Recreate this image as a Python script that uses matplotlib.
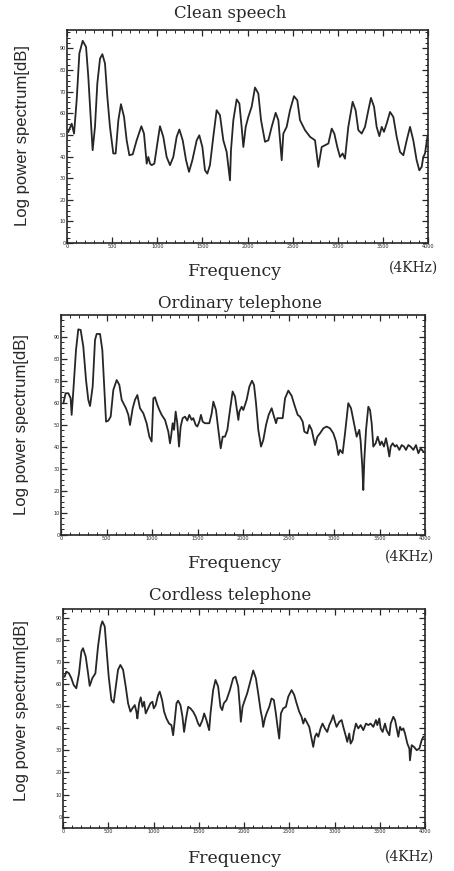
import matplotlib
matplotlib.use("Agg")
import matplotlib.pyplot as plt
from matplotlib.ticker import FixedLocator, MultipleLocator

# ---------------- data ----------------
clean_hz = [15, 52, 78, 107, 137, 174, 211, 236, 262, 284,
            310, 336, 366, 392, 421, 447, 476, 513, 539, 569,
            598, 632, 661, 691, 728, 772, 824, 853, 883, 901,
            920, 938, 968, 1001, 1030, 1067, 1104, 1141, 1178, 1215,
            1245, 1282, 1319, 1352, 1389, 1437, 1466, 1500, 1529, 1555,
            1584, 1621, 1658, 1695, 1732, 1769, 1806, 1817, 1843, 1880,
            1910, 1935, 1954, 1980, 2009, 2046, 2083, 2120, 2150, 2194,
            2231, 2268, 2312, 2342, 2379, 2397, 2434, 2471, 2515, 2552,
            2582, 2637, 2693, 2748, 2785, 2822, 2859, 2896, 2933, 2962,
            2995, 3025, 3054, 3080, 3117, 3165, 3198, 3228, 3265, 3302,
            3339, 3368, 3402, 3431, 3461, 3487, 3512, 3542, 3579, 3616,
            3653, 3690, 3727, 3764, 3801, 3837, 3874, 3904, 3930, 3948,
            3967, 3993]
clean_db = [51.4, 55.2, 50.6, 66.0, 87.7, 93.5, 90.7, 76.9, 58.3, 42.9,
            53.7, 73.8, 85.3, 87.3, 83.0, 67.6, 53.7, 41.4, 41.4, 56.8,
            64.2, 58.3, 47.5, 40.6, 41.0, 47.5, 54.0, 50.6, 36.7, 39.8,
            36.7, 36.0, 36.7, 46.0, 54.0, 49.1, 39.8, 36.0, 39.8, 49.1,
            52.5, 47.5, 38.3, 32.9, 38.3, 47.5, 49.8, 44.4, 33.6, 32.1,
            36.0, 49.1, 61.4, 59.1, 47.5, 42.1, 29.0, 42.9, 56.8, 66.4,
            64.5, 53.7, 44.4, 53.7, 58.3, 63.0, 71.9, 69.1, 56.8, 46.8,
            47.5, 53.7, 60.2, 56.8, 38.3, 50.6, 53.7, 61.4, 67.9, 66.0,
            56.8, 52.2, 49.1, 47.5, 35.2, 44.4, 45.2, 46.0, 52.9, 50.6,
            44.4, 39.8, 41.4, 39.0, 53.7, 65.3, 61.4, 52.2, 50.6, 53.7,
            61.4, 67.1, 63.0, 53.7, 49.4, 53.7, 51.4, 55.2, 60.6, 58.3,
            49.1, 42.1, 40.6, 47.5, 53.7, 47.5, 38.3, 33.6, 35.2, 39.8,
            41.4, 49.1]

ordinary_hz = [26, 51, 81, 106, 117, 136, 165, 190, 216, 245,
               275, 300, 319, 348, 374, 392, 429, 454, 473, 495,
               520, 546, 575, 612, 641, 667, 714, 740, 758, 788,
               813, 839, 868, 905, 941, 971, 996, 1015, 1033, 1059,
               1081, 1106, 1143, 1179, 1198, 1209, 1227, 1242, 1260, 1278,
               1297, 1315, 1337, 1363, 1388, 1410, 1436, 1454, 1480, 1498,
               1520, 1538, 1557, 1582, 1630, 1656, 1674, 1703, 1729, 1755,
               1777, 1802, 1828, 1857, 1886, 1912, 1930, 1949, 1960, 1985,
               2004, 2040, 2070, 2099, 2121, 2143, 2168, 2198, 2223, 2253,
               2282, 2315, 2341, 2363, 2377, 2407, 2436, 2462, 2498, 2535,
               2571, 2601, 2626, 2656, 2674, 2707, 2729, 2755, 2791, 2817,
               2846, 2883, 2919, 2956, 2993, 3022, 3048, 3066, 3095, 3121,
               3157, 3187, 3220, 3249, 3278, 3293, 3311, 3322, 3333, 3352,
               3377, 3396, 3414, 3432, 3458, 3480, 3506, 3524, 3549, 3571,
               3590, 3608, 3623, 3645, 3670, 3689, 3718, 3744, 3769, 3791,
               3817, 3842, 3872, 3901, 3927, 3952, 3982]
ordinary_db = [59.8, 64.3, 64.3, 62.0, 54.5, 65.8, 84.0, 93.3, 93.0, 85.5,
               70.3, 61.3, 58.5, 67.3, 88.5, 91.2, 91.2, 84.0, 68.8, 51.4,
               51.9, 53.7, 65.8, 70.3, 68.1, 61.3, 57.5, 54.5, 49.9, 57.5,
               61.3, 63.5, 57.5, 55.2, 50.7, 44.6, 42.4, 62.0, 62.5, 59.0,
               56.7, 54.5, 52.2, 46.9, 41.6, 44.6, 50.7, 47.7, 56.0, 50.7,
               40.1, 49.2, 53.0, 53.7, 51.9, 54.5, 52.2, 53.0, 49.9, 49.2,
               51.4, 54.5, 51.4, 50.7, 50.7, 55.2, 60.5, 56.7, 47.7, 39.3,
               44.6, 44.6, 47.7, 56.7, 65.1, 62.8, 57.5, 52.2, 56.0, 58.2,
               56.7, 61.3, 67.3, 70.0, 68.1, 59.8, 47.7, 40.1, 43.1, 49.9,
               54.5, 57.5, 53.7, 50.7, 53.0, 53.0, 53.0, 62.0, 65.5, 63.1,
               58.2, 54.5, 53.7, 51.4, 46.9, 46.1, 49.9, 47.7, 40.8, 44.6,
               46.1, 48.4, 49.2, 48.4, 46.1, 42.4, 36.3, 38.6, 37.1, 46.1,
               59.8, 57.5, 50.7, 44.6, 47.7, 42.4, 31.0, 20.4, 34.0, 47.7,
               58.2, 56.7, 50.7, 40.1, 41.6, 44.6, 40.8, 42.4, 40.1, 43.9,
               40.1, 35.6, 40.1, 41.6, 40.1, 40.8, 38.6, 40.8, 40.1, 38.6,
               40.8, 40.1, 38.6, 40.8, 37.1, 39.3, 37.8]

cordless_hz = [18, 37, 66, 92, 118, 147, 177, 203, 221, 251,
               277, 295, 324, 358, 387, 417, 435, 461, 479, 505,
               535, 560, 583, 608, 634, 664, 693, 719, 745, 767,
               793, 811, 822, 841, 859, 878, 896, 914, 940, 966,
               988, 1003, 1025, 1051, 1069, 1095, 1117, 1143, 1172, 1198,
               1217, 1231, 1254, 1272, 1298, 1320, 1338, 1357, 1383, 1408,
               1438, 1467, 1493, 1512, 1541, 1560, 1585, 1615, 1630, 1659,
               1685, 1714, 1740, 1759, 1777, 1807, 1844, 1880, 1906, 1936,
               1954, 1965, 1984, 2009, 2035, 2065, 2102, 2131, 2157, 2183,
               2201, 2212, 2231, 2249, 2279, 2304, 2330, 2352, 2371, 2389,
               2408, 2433, 2463, 2489, 2526, 2555, 2581, 2610, 2636, 2655,
               2673, 2692, 2721, 2747, 2765, 2784, 2802, 2821, 2846, 2868,
               2894, 2920, 2942, 2968, 2986, 3005, 3023, 3053, 3079, 3097,
               3127, 3141, 3163, 3178, 3200, 3215, 3237, 3263, 3289, 3318,
               3348, 3374, 3399, 3429, 3458, 3473, 3495, 3510, 3532, 3558,
               3576, 3606, 3621, 3650, 3669, 3687, 3705, 3724, 3742, 3761,
               3779, 3805, 3827, 3834, 3853, 3879, 3908, 3938, 3964, 3982]
cordless_db = [63.5, 65.8, 65.0, 62.8, 59.7, 58.2, 65.0, 74.9, 76.4, 72.6,
               65.0, 59.3, 62.8, 65.0, 77.2, 86.3, 88.6, 86.3, 77.2, 63.5,
               52.9, 51.7, 59.0, 66.6, 68.8, 66.6, 59.0, 51.4, 47.6, 49.1,
               50.6, 47.6, 44.5, 51.4, 54.1, 49.8, 52.1, 46.8, 49.1, 51.4,
               52.1, 49.1, 50.6, 55.2, 56.7, 52.9, 47.6, 44.5, 42.2, 41.5,
               36.9, 42.2, 51.4, 52.6, 50.6, 45.3, 38.4, 43.8, 49.8, 49.1,
               47.6, 45.3, 42.2, 41.0, 43.8, 46.8, 43.8, 39.2, 46.8, 57.4,
               62.0, 59.0, 49.8, 48.3, 51.4, 52.9, 57.4, 62.8, 63.5, 59.0,
               49.8, 43.0, 49.8, 52.9, 55.9, 60.5, 66.3, 62.8, 55.9, 48.3,
               44.5, 40.7, 44.5, 46.8, 49.8, 53.6, 52.9, 46.8, 40.7, 35.4,
               46.8, 49.1, 49.8, 54.4, 57.4, 55.2, 51.4, 47.6, 45.3, 42.2,
               44.5, 43.0, 40.7, 35.4, 31.6, 36.2, 37.7, 36.2, 40.0, 42.2,
               40.0, 38.4, 41.5, 43.8, 46.0, 43.0, 40.7, 43.0, 43.8, 40.7,
               36.2, 33.9, 37.7, 33.1, 34.7, 38.4, 42.2, 40.0, 41.5, 39.2,
               42.2, 41.5, 42.2, 40.7, 43.8, 41.5, 44.5, 40.0, 38.4, 42.2,
               39.2, 36.9, 42.2, 45.3, 43.8, 40.0, 36.2, 40.7, 39.2, 40.0,
               37.7, 33.1, 30.9, 25.5, 32.4, 31.6, 30.1, 30.9, 34.7, 36.2]

titles = ["Clean speech", "Ordinary telephone", "Cordless telephone"]
x_label = "Frequency"
x_unit = "(4KHz)"
y_label = "Log power spectrum[dB]"
x_ticks = [0, 500, 1000, 1500, 2000, 2500, 3000, 3500, 4000]
x_ticklabels = ["0", "500", "1000", "1500", "2000", "2500", "3000", "3500", "4000"]
y_ticks = [0, 10, 20, 30, 40, 50, 60, 70, 80, 90]
y_ticklabels = ["0", "10", "20", "30", "40", "50", "60", "70", "80", "90"]

# ---------------- layout ----------------
W, H = 454, 871
fig = plt.figure(figsize=(W / 100, H / 100), dpi=100)
fig.patch.set_facecolor("white")

INK = "#262626"

def fx(px):
    return px / W

def fy(py):
    return 1 - py / H

# pixel boxes: left, right, top, bottom
boxes = [(67, 428, 30, 243), (61, 425, 315, 535), (63, 425, 609, 828)]
ylims = [(0, 98.5), (0, 99.8), (-5.2, 94.2)]
title_pos = [(230, 14), (240, 303), (230, 595)]
freq_pos = [(235, 271), (235, 563), (235, 858)]
unit_pos = [(414, 268), (410, 557), (410, 857)]
ylab_pos = [(23, 136), (22, 425), (22, 711)]
series = [(clean_hz, clean_db), (ordinary_hz, ordinary_db), (cordless_hz, cordless_db)]

serif = ["DejaVu Serif"]
narrow = ["Liberation Sans Narrow", "Liberation Sans", "DejaVu Sans"]

for i in range(3):
    l, r, t, b = boxes[i]
    ax = fig.add_axes([fx(l), fy(b), (r - l) / W, (b - t) / H])
    hz, db = series[i]
    ax.plot(hz, db, color=INK, lw=1.3, solid_joinstyle="round")
    ax.set_xlim(0, 4000)
    ax.set_ylim(*ylims[i])
    ax.xaxis.set_major_locator(FixedLocator(x_ticks))
    ax.set_xticklabels(x_ticklabels)
    ax.xaxis.set_minor_locator(MultipleLocator(100))
    ax.yaxis.set_major_locator(FixedLocator(y_ticks))
    ax.set_yticklabels(y_ticklabels)
    ax.yaxis.set_minor_locator(MultipleLocator(2.5))
    ax.tick_params(which="both", direction="in", top=True, right=True,
                   color=INK, labelcolor=INK)
    ax.tick_params(which="major", length=4.5, width=0.9, labelsize=3.5, pad=1)
    ax.tick_params(which="minor", length=2.2, width=0.7)
    for s in ax.spines.values():
        s.set_linewidth(1.2)
        s.set_color(INK)

    tx, ty = title_pos[i]
    fig.text(fx(tx), fy(ty), titles[i], ha="center", va="center",
             family=serif, fontsize=12, color=INK)
    px_, py_ = freq_pos[i]
    fig.text(fx(px_), fy(py_), x_label, ha="center", va="center",
             family=serif, fontsize=12.5, color=INK)
    ux, uy = unit_pos[i]
    fig.text(fx(ux), fy(uy), x_unit, ha="center", va="center",
             family=serif, fontsize=10, color=INK)
    lx, ly = ylab_pos[i]
    fig.text(fx(lx), fy(ly), y_label, ha="center", va="center", rotation=90,
             family=narrow, fontsize=12, color=INK)

fig.savefig("out.png", dpi=100, facecolor="white")
